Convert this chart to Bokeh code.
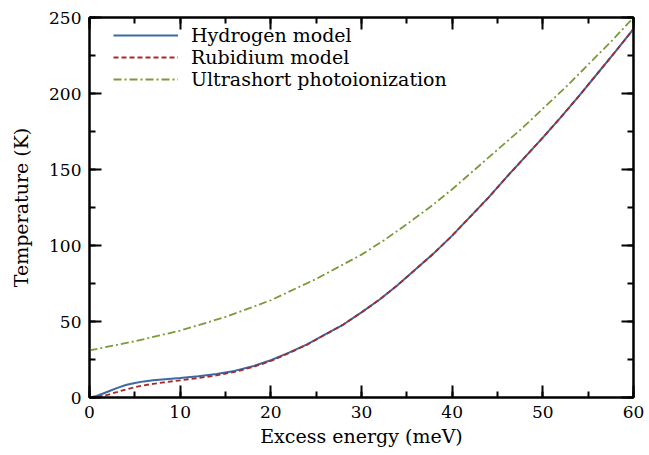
from bokeh.plotting import figure
from bokeh.models import LinearAxis, Range1d, Legend, LegendItem, CustomJSTickFormatter
from bokeh.embed import file_html
from bokeh.resources import INLINE

energy = [0, 0.5, 1, 1.5, 2, 3, 4, 5, 6, 7, 8, 10, 12, 14, 16, 18, 20, 22, 24, 26, 28, 30, 32, 34, 36, 38,
          40, 42, 44, 46, 48, 50, 52, 54, 56, 58, 60]
hydrogen = [0, 0.6, 1.5, 2.6, 3.8, 6.2, 8.2, 9.6, 10.6, 11.3, 11.9, 12.9, 14.0, 15.5, 17.5, 20.5, 24.5, 29.5, 35, 41.5, 48, 56, 64.5, 74, 84.5, 95,
            106.5, 119, 131.5, 145, 158, 171, 184.5, 198.5, 213, 227.5, 242.5]
rubidium = [0, 0.2, 0.6, 1.1, 1.8, 3.5, 5.3, 6.8, 8.0, 9.0, 9.8, 11.3, 12.8, 14.5, 16.8, 20, 24, 29.2, 34.8, 41.4, 48, 56, 64.5, 74, 84.5, 95,
            106.5, 119, 131.5, 145, 158, 171, 184.5, 198.5, 213, 227.5, 242.5]
energy_u = [0, 5, 10, 15, 20, 25, 27.5, 30, 32.5, 35, 37.5, 40, 42.5, 45, 47.5, 50, 52.5, 55, 57.5, 60]
ultrashort = [31, 37, 44, 53, 64, 78, 86, 94, 103.5, 114, 125, 137, 150, 163, 176, 190, 204, 219, 234, 250]

FONT = "DejaVu Serif"

p = figure(width=649, height=455, output_backend="svg", toolbar_location=None,
           x_range=Range1d(0, 60), y_range=Range1d(0, 250),
           min_border_left=89, min_border_right=16, min_border_top=17, min_border_bottom=58)
p.grid.visible = False
p.outline_line_color = "black"
p.outline_line_width = 2

r1 = p.line(energy, hydrogen, line_color="#3b6aa0", line_width=2)
r2 = p.line(energy, rubidium, line_color="#a52a2a", line_width=1.8, line_dash="5 3")
r3 = p.line(energy_u, ultrashort, line_color="#7b9a3a", line_width=1.8, line_dash="8 3 2 3")

def style(ax, labels=True):
    ax.axis_line_width = 2
    ax.major_tick_in = 12
    ax.major_tick_out = 0
    ax.minor_tick_in = 6
    ax.minor_tick_out = 0
    ax.major_tick_line_width = 2
    ax.minor_tick_line_width = 2
    ax.major_label_text_font = FONT
    ax.major_label_text_font_size = "17px"
    ax.major_label_text_color = "black"
    ax.axis_label_text_font = FONT
    ax.axis_label_text_font_size = "19px"
    ax.axis_label_text_font_style = "normal"
    ax.axis_label_text_color = "black"
    if not labels:
        ax.formatter = CustomJSTickFormatter(code="return ''")
        ax.major_label_standoff = 0

p.xaxis.ticker.desired_num_ticks = 7
p.xaxis.ticker.num_minor_ticks = 2
p.yaxis.ticker.num_minor_ticks = 2
p.xaxis.axis_label = "Excess energy (meV)"
p.yaxis.axis_label = "Temperature (K)"
style(p.xaxis[0]); style(p.yaxis[0])
p.xaxis.major_label_standoff = 8
p.yaxis.major_label_standoff = 8
p.xaxis.axis_label_standoff = 4
p.yaxis.axis_label_standoff = 14

top = LinearAxis(); right = LinearAxis()
style(top, False); style(right, False)
top.ticker.num_minor_ticks = 2
right.ticker.num_minor_ticks = 2
p.add_layout(top, "above"); p.add_layout(right, "right")

legend = Legend(items=[LegendItem(label="Hydrogen model", renderers=[r1]),
                       LegendItem(label="Rubidium model", renderers=[r2]),
                       LegendItem(label="Ultrashort photoionization", renderers=[r3])],
                location=(24, 307))
legend.border_line_color = None
legend.background_fill_alpha = 0
legend.label_text_font = FONT
legend.label_text_font_size = "19px"
legend.label_text_color = "black"
legend.glyph_width = 65
legend.glyph_height = 22
legend.spacing = 0
legend.padding = 0
legend.margin = 0
legend.label_standoff = 13
legend.label_height = 22
p.add_layout(legend)

open("out.html", "w").write(file_html(p, INLINE))
